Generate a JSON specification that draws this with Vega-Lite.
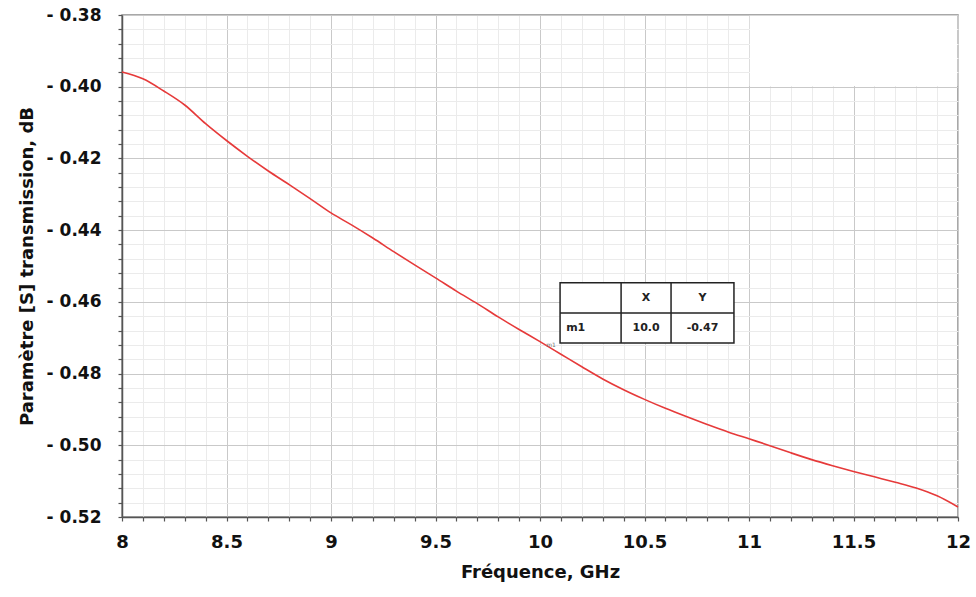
{
  "$schema": "https://vega.github.io/schema/vega-lite/v6.json",
  "width": 836,
  "height": 502,
  "autosize": {"type": "none"},
  "padding": {"left": 122, "top": 15, "right": 18, "bottom": 80},
  "background": "white",
  "config": {
    "view": {"stroke": "#8c8c8c", "strokeWidth": 1.5},
    "font": "DejaVu Sans"
  },
  "data": {
    "values": [
      {"f": 8.0, "s": -0.3959}, {"f": 8.1, "s": -0.3978}, {"f": 8.2, "s": -0.4012},
      {"f": 8.3, "s": -0.4051}, {"f": 8.4, "s": -0.4103}, {"f": 8.5, "s": -0.4150},
      {"f": 8.6, "s": -0.4194}, {"f": 8.7, "s": -0.4235}, {"f": 8.8, "s": -0.4273},
      {"f": 8.9, "s": -0.4312}, {"f": 9.0, "s": -0.4352}, {"f": 9.1, "s": -0.4386},
      {"f": 9.2, "s": -0.4422}, {"f": 9.3, "s": -0.4460}, {"f": 9.4, "s": -0.4497},
      {"f": 9.5, "s": -0.4533}, {"f": 9.6, "s": -0.4570}, {"f": 9.7, "s": -0.4605},
      {"f": 9.8, "s": -0.4642}, {"f": 9.9, "s": -0.4677}, {"f": 10.0, "s": -0.4711},
      {"f": 10.1, "s": -0.4746}, {"f": 10.2, "s": -0.4781}, {"f": 10.3, "s": -0.4815},
      {"f": 10.4, "s": -0.4845}, {"f": 10.5, "s": -0.4872}, {"f": 10.6, "s": -0.4897},
      {"f": 10.7, "s": -0.4920}, {"f": 10.8, "s": -0.4942}, {"f": 10.9, "s": -0.4963},
      {"f": 11.0, "s": -0.4982}, {"f": 11.1, "s": -0.5001}, {"f": 11.2, "s": -0.5021},
      {"f": 11.3, "s": -0.5040}, {"f": 11.4, "s": -0.5057}, {"f": 11.5, "s": -0.5073},
      {"f": 11.6, "s": -0.5088}, {"f": 11.7, "s": -0.5103}, {"f": 11.8, "s": -0.5119},
      {"f": 11.9, "s": -0.5141}, {"f": 12.0, "s": -0.5172}
    ]
  },
  "layer": [
    {
      "mark": {"type": "line", "color": "#e63a3a", "strokeWidth": 1.6, "interpolate": "monotone"},
      "encoding": {
        "x": {
          "field": "f", "type": "quantitative",
          "scale": {"domain": [8, 12], "nice": false, "zero": false},
          "axis": {
            "title": "Fréquence, GHz",
            "titleFont": "DejaVu Sans", "titleFontSize": 18, "titleFontWeight": "bold", "titleColor": "#111",
            "titlePadding": 12,
            "tickCount": 200,
            "values": [8, 8.1, 8.2, 8.3, 8.4, 8.5, 8.6, 8.7, 8.8, 8.9, 9, 9.1, 9.2, 9.3, 9.4, 9.5, 9.6, 9.7, 9.8, 9.9, 10, 10.1, 10.2, 10.3, 10.4, 10.5, 10.6, 10.7, 10.8, 10.9, 11, 11.1, 11.2, 11.3, 11.4, 11.5, 11.6, 11.7, 11.8, 11.9, 12],
            "labelExpr": "abs(datum.value * 2 - round(datum.value * 2)) < 0.000001 ? format(datum.value, '.1~f') : ''",
            "labelOverlap": false, "labelBound": false, "labelFlush": false,
            "labelFont": "DejaVu Sans", "labelFontSize": 18, "labelFontWeight": "bold", "labelColor": "#111",
            "labelPadding": 12,
            "tickSize": 4, "tickColor": "#555", "tickWidth": 1.2,
            "domainColor": "#555", "domainWidth": 1.5,
            "grid": true,
            "gridColor": {"condition": {"test": "abs(datum.value * 2 - round(datum.value * 2)) < 0.000001", "value": "#c9c9c9"}, "value": "#ebebeb"},
            "gridWidth": 1
          }
        },
        "y": {
          "field": "s", "type": "quantitative",
          "scale": {"domain": [-0.52, -0.38], "nice": false, "zero": false},
          "axis": {
            "title": "Paramètre [S] transmission, dB",
            "titleFont": "DejaVu Sans", "titleFontSize": 18, "titleFontWeight": "bold", "titleColor": "#111",
            "titlePadding": 10,
            "tickCount": 200,
            "values": [-0.52, -0.516, -0.512, -0.508, -0.504, -0.5, -0.496, -0.492, -0.488, -0.484, -0.48, -0.476, -0.472, -0.468, -0.464, -0.46, -0.456, -0.452, -0.448, -0.444, -0.44, -0.436, -0.432, -0.428, -0.424, -0.42, -0.416, -0.412, -0.408, -0.404, -0.4, -0.396, -0.392, -0.388, -0.384, -0.38],
            "labelExpr": "abs(datum.value * 50 - round(datum.value * 50)) < 0.000001 ? '- ' + format(-datum.value, '.2f') : ''",
            "labelOverlap": false, "labelBound": false, "labelFlush": false,
            "labelFont": "DejaVu Sans", "labelFontSize": 17, "labelFontWeight": "bold", "labelColor": "#111",
            "labelPadding": 17,
            "tickSize": 4, "tickColor": "#555", "tickWidth": 1.2,
            "domainColor": "#555", "domainWidth": 1.5,
            "grid": true,
            "gridColor": {"condition": {"test": "abs(datum.value * 50 - round(datum.value * 50)) < 0.000001", "value": "#c9c9c9"}, "value": "#ebebeb"},
            "gridWidth": 1
          }
        }
      }
    },
    {
      "data": {"values": [{}]},
      "mark": {"type": "rect", "fill": "white", "stroke": null},
      "encoding": {
        "x": {"datum": 11.003, "type": "quantitative"},
        "x2": {"datum": 11.997},
        "y": {"datum": -0.3802, "type": "quantitative"},
        "y2": {"datum": -0.3998}
      }
    },
    {
      "data": {"values": [{}]},
      "mark": {"type": "rect", "fill": "white", "stroke": "#222", "strokeWidth": 1.5},
      "encoding": {
        "x": {"datum": 10.096, "type": "quantitative"},
        "x2": {"datum": 10.928},
        "y": {"datum": -0.4547, "type": "quantitative"},
        "y2": {"datum": -0.4715}
      }
    },
    {
      "data": {"values": [{}]},
      "mark": {"type": "rule", "color": "#222", "strokeWidth": 1.5},
      "encoding": {
        "x": {"datum": 10.388, "type": "quantitative"},
        "y": {"datum": -0.4547, "type": "quantitative"},
        "y2": {"datum": -0.4715}
      }
    },
    {
      "data": {"values": [{}]},
      "mark": {"type": "rule", "color": "#222", "strokeWidth": 1.5},
      "encoding": {
        "x": {"datum": 10.627, "type": "quantitative"},
        "y": {"datum": -0.4547, "type": "quantitative"},
        "y2": {"datum": -0.4715}
      }
    },
    {
      "data": {"values": [{}]},
      "mark": {"type": "rule", "color": "#222", "strokeWidth": 1.5},
      "encoding": {
        "x": {"datum": 10.096, "type": "quantitative"},
        "x2": {"datum": 10.928},
        "y": {"datum": -0.4631, "type": "quantitative"}
      }
    },
    {
      "data": {"values": [{}]},
      "mark": {"type": "text", "text": "X", "font": "DejaVu Sans", "fontSize": 11, "fontWeight": "bold", "color": "#222"},
      "encoding": {
        "x": {"datum": 10.5075, "type": "quantitative"},
        "y": {"datum": -0.4589, "type": "quantitative"}
      }
    },
    {
      "data": {"values": [{}]},
      "mark": {"type": "text", "text": "Y", "font": "DejaVu Sans", "fontSize": 11, "fontWeight": "bold", "color": "#222"},
      "encoding": {
        "x": {"datum": 10.7775, "type": "quantitative"},
        "y": {"datum": -0.4589, "type": "quantitative"}
      }
    },
    {
      "data": {"values": [{}]},
      "mark": {"type": "text", "text": "m1", "font": "DejaVu Sans", "fontSize": 11, "fontWeight": "bold", "color": "#222", "align": "left"},
      "encoding": {
        "x": {"datum": 10.125, "type": "quantitative"},
        "y": {"datum": -0.4673, "type": "quantitative"}
      }
    },
    {
      "data": {"values": [{}]},
      "mark": {"type": "text", "text": "10.0", "font": "DejaVu Sans", "fontSize": 11, "fontWeight": "bold", "color": "#222"},
      "encoding": {
        "x": {"datum": 10.5075, "type": "quantitative"},
        "y": {"datum": -0.4673, "type": "quantitative"}
      }
    },
    {
      "data": {"values": [{}]},
      "mark": {"type": "text", "text": "-0.47", "font": "DejaVu Sans", "fontSize": 11, "fontWeight": "bold", "color": "#222"},
      "encoding": {
        "x": {"datum": 10.7775, "type": "quantitative"},
        "y": {"datum": -0.4673, "type": "quantitative"}
      }
    },
    {
      "data": {"values": [{}]},
      "mark": {"type": "text", "text": "m1", "font": "DejaVu Sans", "fontSize": 6, "color": "#777", "dx": 11, "dy": 3},
      "encoding": {
        "x": {"datum": 10.0, "type": "quantitative"},
        "y": {"datum": -0.4711, "type": "quantitative"}
      }
    }
  ]
}
